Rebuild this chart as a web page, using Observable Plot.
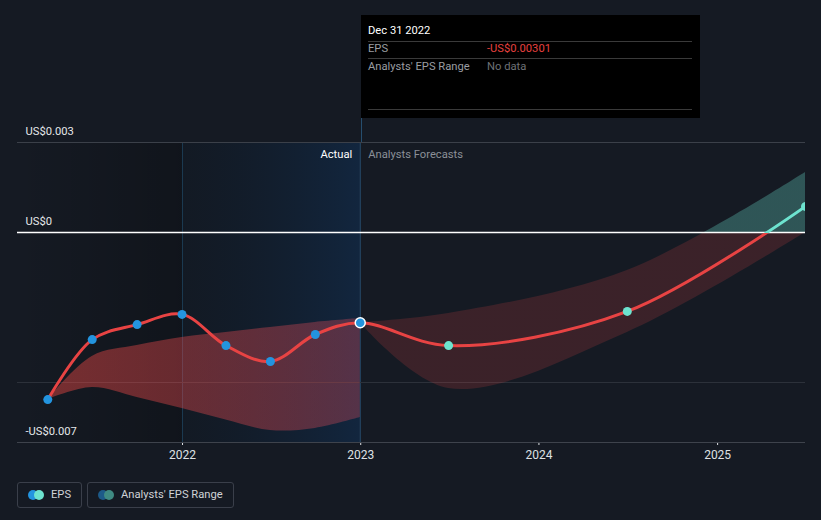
<!DOCTYPE html>
<html>
<head>
<meta charset="utf-8">
<script src="https://cdn.jsdelivr.net/npm/d3@7"></script>
<script src="https://cdn.jsdelivr.net/npm/@observablehq/plot@0.6"></script>
<style>
  body { margin: 0; background: #151a23; font-family: Roboto, "Noto Sans", sans-serif; }
  #wrap { position: relative; width: 821px; height: 520px; overflow: hidden; }
  #tip { position: absolute; background: #000; color: #fff; font-size: 11.2px; }
  .sep { position: absolute; left: 7px; right: 8px; height: 1px; background: #3a3a3a; }
  .tl { position: absolute; white-space: nowrap; }
  .lg { position: absolute; top: 482px; height: 26px; border: 1px solid #3a3f4a; border-radius: 3px; box-sizing: border-box; color: #cfd2d6; font-size: 11.2px; }
  .lg .d { position: absolute; top: 7px; width: 10px; height: 10px; border-radius: 50%; }
  .lg span { position: absolute; top: 5px; white-space: nowrap; }
</style>
</head>
<body>
<div id="wrap"></div>
<script>
// ---- data ----
const histDates = ["2021-03-31","2021-06-30","2021-09-30","2021-12-31","2022-03-31","2022-06-30","2022-09-30","2022-12-31"];
const histEps   = [-0.00557,-0.00357,-0.00307,-0.00273,-0.00377,-0.0043,-0.0034,-0.00301];
const histLow   = [-0.00557,-0.00517,-0.0055,-0.00587,-0.00625,-0.0066,-0.00653,-0.00617];
const histHigh  = [-0.00557,-0.00413,-0.00377,-0.0035,-0.00333,-0.00317,-0.003,-0.00287];

const fcDates = ["2022-12-31","2023-06-30","2024-06-30","2025-06-30"];
const fcEps   = [-0.00301,-0.00377,-0.00263,0.00087];
const fcLow   = [-0.00301,-0.0052,-0.00333,0.0];
const fcHigh  = [-0.00301,-0.0027,-0.00127,0.002];

const yLabelValues = [0.003, 0, -0.007];
const yLabelTexts  = ["US$0.003", "US$0", "-US$0.007"];
const xTickYears   = ["2022-01-01","2023-01-01","2024-01-01","2025-01-01"];
const domainStart = "2021-01-28", domainEnd = "2025-06-30";
const highlightStart = "2022-01-01", nowDate = "2022-12-31";
const tooltipDate = "Dec 31 2022";
const tooltipEps = -0.00301;

// ---- tables ----
const P = d => new Date(d + "T00:00:00");
const hist = histDates.map((d,i) => ({date: P(d), eps: histEps[i], low: histLow[i], high: histHigh[i]}));
const fc = fcDates.map((d,i) => ({date: P(d), eps: fcEps[i], low: fcLow[i], high: fcHigh[i]}));
const allLine = hist.concat(fc.slice(1));
const yLabels = yLabelValues.map((v,i) => ({v, t: yLabelTexts[i]}));

const chart = Plot.plot({
  width: 821, height: 470,
  marginLeft: 17, marginRight: 16, marginTop: 142, marginBottom: 28,
  style: {background: "transparent", color: "#dfe1e4", fontFamily: "Roboto, 'Noto Sans', sans-serif", fontSize: "12px"},
  x: {type: "time", domain: [P(domainStart), P(domainEnd)], ticks: xTickYears.map(P), tickFormat: "%Y", tickSize: 3, tickPadding: 5, label: null},
  y: {domain: [-0.007, 0.003], axis: null},
  marks: [
    Plot.rect([{a: P(domainStart), b: P(highlightStart)}], {x1: "a", x2: "b", fill: "url(#leftShade)"}),
    Plot.rect([{a: P(highlightStart), b: P(nowDate)}], {x1: "a", x2: "b", fill: "url(#hlShade)"}),
    Plot.ruleX([P(highlightStart)], {stroke: "#1c3a52", strokeWidth: 1}),
    Plot.ruleX([P(nowDate)], {stroke: "#264e6e", strokeWidth: 1}),
    Plot.ruleY([0.003], {stroke: "#3b4049"}),
    Plot.ruleY([-0.005], {stroke: "#2c313a"}),
    Plot.ruleY([-0.007], {stroke: "#3e434c"}),
    Plot.areaY(hist, {x: "date", y1: "low", y2: "high", fill: "url(#histBand)", curve: "catmull-rom"}),
    Plot.areaY(fc, {x: "date", y1: "low", y2: "high", fill: "url(#zeroFill)", curve: "catmull-rom", clip: true}),
    Plot.ruleY([0], {stroke: "#ffffff", strokeWidth: 1.5}),
    Plot.line(allLine, {x: "date", y: "eps", stroke: "url(#zeroLine)", strokeWidth: 3, curve: "catmull-rom", clip: true}),
    Plot.dot(hist, {x: "date", y: "eps", r: 4.5, fill: "#2394df"}),
    Plot.dot(hist.slice(-1), {x: "date", y: "eps", r: 5, fill: "#2394df", stroke: "#ffffff", strokeWidth: 1.5}),
    Plot.dot(fc.slice(1), {x: "date", y: "eps", r: 4.5, fill: "#6de3cf", clip: true}),
    Plot.text(yLabels, {y: "v", text: "t", frameAnchor: "left", textAnchor: "start", dx: 8, dy: -11, fill: "#e6e8ea", fontSize: 11.2}),
    Plot.text(["Actual"], {x: P(nowDate), text: d => d, frameAnchor: "top", textAnchor: "end", dx: -8, dy: 8, fill: "#ffffff", fontSize: 11.2}),
    Plot.text(["Analysts Forecasts"], {x: P(nowDate), text: d => d, frameAnchor: "top", textAnchor: "start", dx: 8, dy: 8, fill: "#8b9098", fontSize: 11.2})
  ]
});

// gradients
const ys = chart.scale("y");
const xs = chart.scale("x");
const yScale = ys.apply ? (v => ys.apply(v)) : d3.scaleLinear(ys.domain, ys.range);
const xScale = xs.apply ? (v => xs.apply(v)) : d3.scaleTime(xs.domain, xs.range);
const y0 = yScale(0);
const defs = d3.select(chart).insert("defs", ":first-child");
function grad(id, attrs, stops) {
  const g = defs.append("linearGradient").attr("id", id);
  for (const k in attrs) g.attr(k, attrs[k]);
  for (const s of stops) g.append("stop").attr("offset", s[0]).attr("stop-color", s[1]).attr("stop-opacity", s[2]);
}
grad("zeroLine", {gradientUnits: "userSpaceOnUse", x1: 0, x2: 0, y1: y0, y2: y0 + 0.01}, [[0, "#6de3cf", 1], [1, "#e84343", 1]]);
grad("zeroFill", {gradientUnits: "userSpaceOnUse", x1: 0, x2: 0, y1: y0, y2: y0 + 0.01}, [[0, "#6ee6d4", 0.29], [1, "#e84444", 0.18]]);
grad("histBand", {x1: 0, x2: 1, y1: 0, y2: 0}, [[0, "#f04842", 0.45], [1, "#f05060", 0.3]]);
grad("leftShade", {x1: 0, x2: 1, y1: 0, y2: 0}, [[0, "#000000", 0], [1, "#000000", 0.22]]);
grad("hlShade", {x1: 0, x2: 1, y1: 0, y2: 0}, [[0, "#0a1928", 0.2], [1, "#0f325a", 0.5]]);

const wrap = document.getElementById("wrap");
wrap.appendChild(chart);
chart.style.position = "absolute"; chart.style.left = "0"; chart.style.top = "0";

// tooltip
const tx = Math.round(xScale(P(nowDate))) + 1;
const tip = document.createElement("div");
tip.id = "tip";
tip.style.left = tx + "px"; tip.style.top = "15px"; tip.style.width = (700 - tx) + "px"; tip.style.height = "103px";
const fmt = v => (v < 0 ? "-" : "") + "US$" + Math.abs(v).toFixed(5);
tip.innerHTML = `
  <div class="tl" style="left:7px;top:9px;color:#fff">${tooltipDate}</div>
  <div class="sep" style="top:26px"></div>
  <div class="tl" style="left:7px;top:27px;color:#9a9da2">EPS</div>
  <div class="tl" style="left:126px;top:27px;color:#e8413f">${fmt(tooltipEps)}</div>
  <div class="sep" style="top:43px"></div>
  <div class="tl" style="left:7px;top:45px;color:#9a9da2">Analysts' EPS Range</div>
  <div class="tl" style="left:126px;top:45px;color:#6e7176">No data</div>
  <div class="sep" style="top:94px"></div>`;
wrap.appendChild(tip);
const conn = document.createElement("div");
conn.style.cssText = `position:absolute;left:${tx}px;top:118px;width:1px;height:24px;background:#264e6e`;
wrap.appendChild(conn);

// legend
const lg1 = document.createElement("div");
lg1.className = "lg"; lg1.style.left = "17px"; lg1.style.width = "65px";
lg1.innerHTML = `<div class="d" style="left:10px;background:#2394df"></div><div class="d" style="left:16px;background:#6de3cf"></div><span style="left:33px">EPS</span>`;
const lg2 = document.createElement("div");
lg2.className = "lg"; lg2.style.left = "87px"; lg2.style.width = "147px";
lg2.innerHTML = `<div class="d" style="left:10px;background:#1d5a88"></div><div class="d" style="left:16px;background:#3f8a82"></div><span style="left:33px">Analysts' EPS Range</span>`;
wrap.appendChild(lg1); wrap.appendChild(lg2);
</script>
</body>
</html>
